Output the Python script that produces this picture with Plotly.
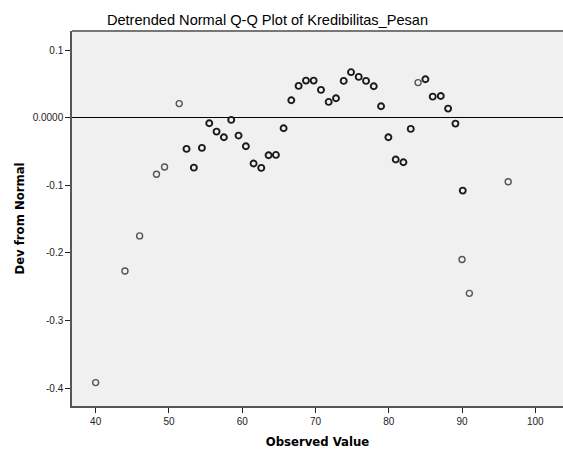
import plotly.graph_objects as go

# Single-case points (drawn lighter)
obs_single = [40.0, 44.0, 46.0, 48.3, 49.4, 51.4, 84.0, 90.0, 91.0, 96.3]
dev_single = [-0.392, -0.227, -0.175, -0.0838, -0.073, 0.0207, 0.0518, -0.210, -0.260, -0.095]

# Multi-case points (drawn darker, overlapping circles)
obs_multi = [52.4, 53.4, 54.5, 55.5, 56.5, 57.5, 58.5, 59.5, 60.5, 61.55, 62.6, 63.6, 64.6,
             65.65, 66.7, 67.7, 68.7, 69.75, 70.75, 71.8, 72.8, 73.85, 74.85, 75.9, 76.9,
             77.95, 78.95, 79.95, 80.95, 82.0, 83.0, 85.0, 86.0, 87.1, 88.1, 89.1, 90.1]
dev_multi = [-0.0463, -0.074, -0.0448, -0.0083, -0.0207, -0.029, -0.0034, -0.0266, -0.0423,
             -0.068, -0.0744, -0.0556, -0.0552, -0.0157, 0.0257, 0.0469, 0.0547, 0.0547,
             0.041, 0.0232, 0.0287, 0.0543, 0.0672, 0.0602, 0.0543, 0.0464, 0.0168, -0.029,
             -0.062, -0.066, -0.0167, 0.0567, 0.031, 0.032, 0.0133, -0.0089, -0.108]

x_ticks = [40, 50, 60, 70, 80, 90, 100]
y_ticks = [0.1, 0.0, -0.1, -0.2, -0.3, -0.4]
y_tick_labels = ["0.1", "0.0000", "-0.1", "-0.2", "-0.3", "-0.4"]

fig = go.Figure()
fig.add_trace(go.Scatter(
    x=obs_single, y=dev_single, mode="markers",
    marker=dict(symbol="circle-open", size=6, color="#555555", line=dict(width=1.4, color="#555555")),
    showlegend=False, hoverinfo="x+y"))
fig.add_trace(go.Scatter(
    x=obs_multi, y=dev_multi, mode="markers",
    marker=dict(symbol="circle-open", size=6, color="#1a1a1a", line=dict(width=1.9, color="#1a1a1a")),
    showlegend=False, hoverinfo="x+y"))

fig.update_layout(
    width=563, height=450,
    margin=dict(l=72, r=0, t=31, b=44, autoexpand=False),
    paper_bgcolor="white", plot_bgcolor="#f0f0f0",
    font=dict(family="Liberation Sans, Arial, sans-serif", size=10, color="#222222"),
    title=dict(text="Detrended Normal Q-Q Plot of Kredibilitas_Pesan",
               x=267.5 / 563, xanchor="center", y=1 - 20 / 450, yanchor="middle",
               xref="container", yref="container",
               font=dict(size=14.6, color="#000000")),
    shapes=[dict(type="line", xref="paper", yref="paper", x0=0, x1=1, y0=1, y1=1,
                 line=dict(color="#777777", width=2))],
)
fig.update_xaxes(
    range=[36.77, 103.78], tickvals=x_ticks, ticks="outside", ticklen=5, tickwidth=1,
    tickcolor="#222222", showgrid=False, zeroline=False, automargin=False,
    showline=True, linecolor="#555555", linewidth=1.5, mirror=False,
    title=dict(text="<b>Observed Value</b>",
               font=dict(family="DejaVu Sans, sans-serif", size=11.7, color="#000000"), standoff=12),
)
fig.update_yaxes(
    range=[-0.4266, 0.1281], tickvals=y_ticks, ticktext=y_tick_labels, ticks="outside",
    ticklen=5, tickwidth=1, tickcolor="#222222", showgrid=False, automargin=False,
    zeroline=True, zerolinecolor="#000000", zerolinewidth=1.2,
    showline=True, linecolor="#555555", linewidth=1.5, mirror=False,
    title=dict(text="<b>Dev from Normal</b>",
               font=dict(family="DejaVu Sans, sans-serif", size=11.7, color="#000000"), standoff=6),
)

fig.write_html(
    "out.html",
    config={"displayModeBar": False},
    post_script="document.body.style.margin='0';document.body.style.overflow='hidden';",
)
